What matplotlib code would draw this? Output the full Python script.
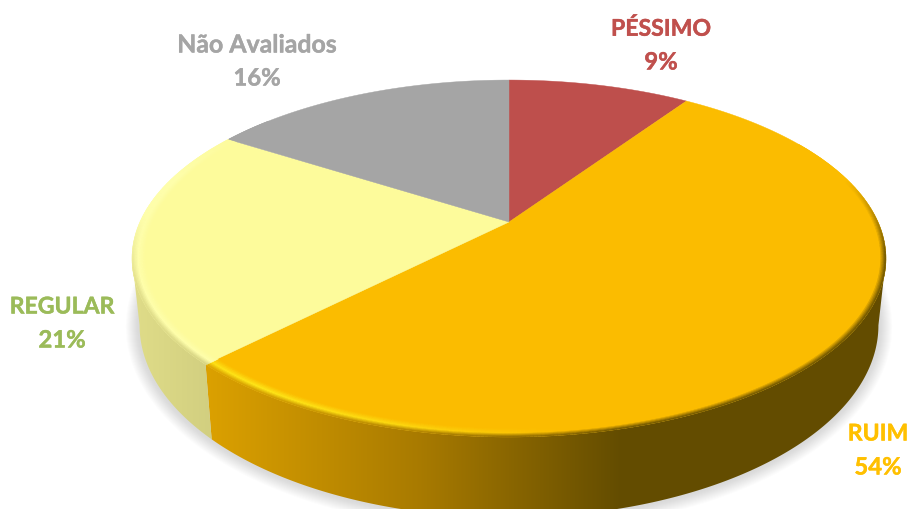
import numpy as np
import matplotlib
matplotlib.use("Agg")
import matplotlib.pyplot as plt
import matplotlib.patheffects as pe
from matplotlib.patches import Polygon
from matplotlib.collections import PolyCollection
from matplotlib.colors import to_rgb

labels = ["PÉSSIMO", "RUIM", "REGULAR", "Não Avaliados"]
percents = [9, 54, 21, 16]
# slice sizes as drawn
shares = [9.5, 52.9, 21.6, 16.0]
colors = ["#BE4F4C", "#FBBC00", "#FDFB9B", "#A5A5A5"]
text_colors = ["#C0504D", "#FFC000", "#9BBB59", "#A5A5A5"]
highlights = ["#BE4F4C", "#FFE81A", "#FFFFAC", "#A5A5A5"]
label_pos = [(661, 29), (878, 434), (62, 307), (257, 45)]
label_size = [16.6, 16.6, 16.6, 17.9]

# pie geometry in pixels
cx, cy = 509, 222
k, a, b = 0.2045, 369, 171
depth = 64

fig = plt.figure(figsize=(9.11, 5.09), dpi=100)
ax = fig.add_axes([0, 0, 1, 1])


def top(t, r=1.0):
    rad = np.radians(t)
    u, v = r * np.sin(rad), r * np.cos(rad)
    w = 1 + k * v
    return cx + a * u / w, cy - b * v / w


def bottom(t, grow=0.0):
    rad = np.radians(t)
    w = 1 + k * np.cos(rad)
    x, y = top(t)
    return cx + (x - cx) * 0.98 + grow * np.sin(rad), y + depth / w - grow * np.cos(rad)


def mix(c1, c2, f):
    return tuple((1 - f) * p + f * q for p, q in zip(c1, c2))


def side_color(i, x):
    if i == 1:
        return (np.interp(x, [207, 420, 620], [0.86, 0.66, 0.39]),
                np.interp(x, [207, 420, 620], [0.63, 0.48, 0.30]),
                0.0)
    if i == 2:
        return mix(to_rgb("#DFDC88"), to_rgb("#D2CF80"), np.clip((x - 135) / 75, 0, 1))
    return mix(to_rgb(colors[i]), (0, 0, 0), 0.3)


edges = np.cumsum([0] + shares) * 3.6

# where the outline turns from top face to wall
turn = np.degrees(np.arccos(-k))


def slice_of(t):
    return min(int(np.searchsorted(edges, t % 360, side="right")) - 1, len(shares) - 1)


# soft shadow
ts = np.arange(0, 360, 1.0)
for g in range(1, 14):
    sx, sy = bottom(ts, g + 1)
    ax.add_patch(Polygon(np.c_[sx, sy], fc="#606060", ec="none", alpha=0.016, zorder=1))

# side wall, a horizontal gradient clipped to each visible slice
xs = np.arange(0, 912)
for i in [1, 2]:
    arc = np.linspace(max(edges[i], turn), min(edges[i + 1], 360 - turn), 300)
    tx, ty = top(arc)
    bx, by = bottom(arc[::-1])
    wall = Polygon(np.c_[np.r_[tx, bx], np.r_[ty, by]], fc="none", ec="none", transform=ax.transData)
    ax.add_patch(wall)
    grad = np.array([[side_color(i, x) for x in xs]])
    im = ax.imshow(grad, extent=(0, 912, 509, 0), aspect="auto", interpolation="bilinear", zorder=2)
    im.set_clip_path(wall)

ax.set_xlim(0, 911)
ax.set_ylim(509, 0)
ax.axis("off")

# top faces
for i in range(len(shares)):
    arc = np.linspace(edges[i], edges[i + 1], 200)
    ex, ey = top(arc)
    pts = np.vstack([[cx, cy], np.c_[ex, ey]])
    ax.add_patch(Polygon(pts, fc=colors[i], ec=colors[i], lw=0.3, zorder=3))

# bevel on the rim
quads, cols = [], []
radii = np.linspace(0.966, 1.0, 11)
for t in np.arange(60, 312, 0.5):
    i = slice_of(t + 0.25)
    weight = np.interp(t, [75, 100, 285, 305], [0, 1, 1, 0])
    blend = np.interp(t, [250, 272], [1, 0])
    if i == 1:
        h = np.interp(t, [172, 195, 215, 227], [0, 0.7, 1, 0.85])
    else:
        h = 1.0
    face = to_rgb(colors[i])
    high = mix(face, to_rgb(highlights[i]), h)
    xm, _ = top(t + 0.25)
    wall = side_color(i, xm)
    for r1, r2 in zip(radii[:-1], radii[1:]):
        p = (r1 + r2 - 2 * radii[0]) / (2 * (1 - radii[0]))
        if p < 0.55:
            c = mix(face, high, p / 0.55)
        else:
            c = mix(high, wall, blend * (p - 0.55) / 0.45)
        c = mix(face, c, weight)
        quads.append([top(t, r1), top(t + 0.5, r1), top(t + 0.5, r2), top(t, r2)])
        cols.append(c)
ax.add_collection(PolyCollection(quads, facecolors=cols, edgecolors="face", linewidths=0.3, zorder=4))

# labels
for name, val, col, (x, y), size in zip(labels, percents, text_colors, label_pos, label_size):
    bold = [pe.withStroke(linewidth=0.3, foreground=col)]
    ax.text(x, y, name, color=col, family="Lato", weight="bold", fontsize=size,
            ha="center", va="center", zorder=5, path_effects=bold)
    ax.text(x, y + 33, f"{val}%", color=col, family="Lato", weight="bold", fontsize=17.2,
            ha="center", va="center", zorder=5, path_effects=bold)

fig.savefig("out.png", dpi=100)
